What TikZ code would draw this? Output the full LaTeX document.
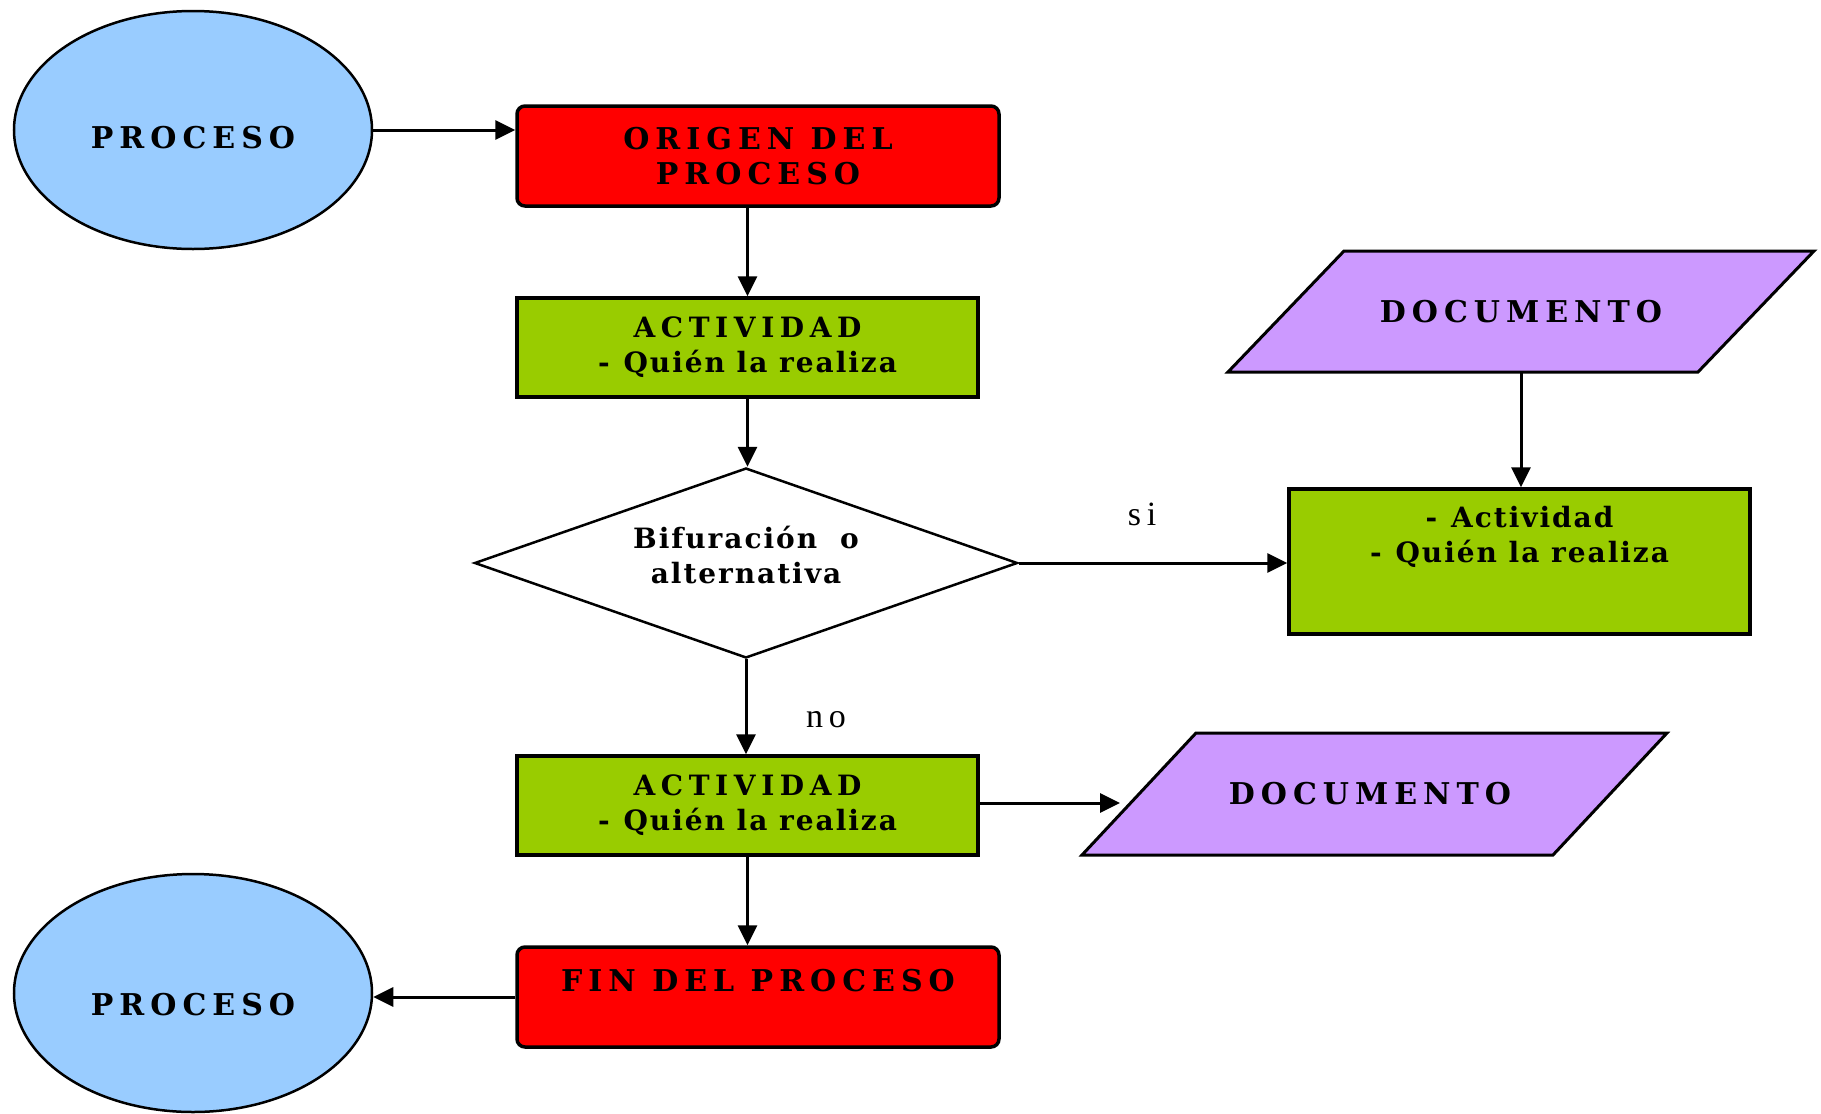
\documentclass[tikz,border=0pt]{standalone}
\usepackage{fontspec}
\setmainfont{Liberation Serif}
\newfontfamily\capsfont{DejaVu Serif}[LetterSpace=20]
\newfontfamily\lowfont{DejaVu Serif}[LetterSpace=7]
\newfontfamily\lblfont{Liberation Serif}[LetterSpace=17]
\usetikzlibrary{shapes.geometric,arrows.meta,calc}
\definecolor{procblue}{HTML}{99CCFF}
\definecolor{actgreen}{HTML}{99CC00}
\definecolor{docpurple}{HTML}{CC99FF}
\definecolor{boxred}{HTML}{FF0000}
\begin{document}
\begin{tikzpicture}[x=1pt,y=-1pt,
  proc/.style={ellipse, draw, line width=2.5pt, fill=procblue, minimum width=358pt, minimum height=238pt, inner sep=0pt},
  redbox/.style={draw, line width=3.5pt, fill=boxred, rounded corners=8pt, minimum width=482pt, minimum height=100pt, inner sep=0pt},
  greenbox/.style={draw, line width=3.5pt, fill=actgreen, minimum width=461pt, minimum height=99pt, inner sep=0pt},
  decision/.style={diamond, draw, line width=2.5pt, fill=white, aspect=2.86, minimum width=543pt, minimum height=190pt, inner sep=0pt},
  docshape/.style={draw, line width=3pt, fill=docpurple},
  arr/.style={line width=3pt, -{Triangle[length=20pt,width=19pt]}},
  capst/.style={font=\capsfont\bfseries\fontsize{30}{35}\selectfont, align=center},
  lowt/.style={font=\lowfont\bfseries\fontsize{28}{35}\selectfont, align=center},
  lbl/.style={font=\lblfont\fontsize{34}{40}\selectfont, inner sep=0pt}
]
\useasboundingbox (0,0) rectangle (1821,1114);

% documents (parallelograms)
\coordinate (d1a) at (1344,251);
\coordinate (d1b) at (1814,251);
\coordinate (d1c) at (1698,372);
\coordinate (d1d) at (1228,372);
\draw[docshape] (d1a) -- (d1b) -- (d1c) -- (d1d) -- cycle;
\node[capst] (doc1) at (1521,312) {DOCUMENTO};
\coordinate (doc1out) at (1521,372);

\coordinate (d2a) at (1196,733);
\coordinate (d2b) at (1667,733);
\coordinate (d2c) at (1553,855);
\coordinate (d2d) at (1082,855);
\draw[docshape] (d2a) -- (d2b) -- (d2c) -- (d2d) -- cycle;
\node[capst] (doc2) at (1370,794) {DOCUMENTO};
\coordinate (doc2in) at (1120,803);

% process ellipses
\node[proc, label={[capst, yshift=-8pt]center:PROCESO}] (p1) at (193,130) {};
\node[proc, label={[capst, yshift=-12pt]center:PROCESO}] (p2) at (193,993) {};

% boxes
\node[redbox, capst] (orig) at (758,156) {ORIGEN DEL\\PROCESO};
\node[greenbox, lowt] (act1) at (747.5,347.5) {{\capsfont\fontsize{28}{35}\selectfont ACTIVIDAD}\\-\hspace{0.5em}Quién la realiza};
\node[decision, label={[lowt, yshift=8pt]center:Bifuración\hspace{0.4em} o\\alternativa}] (dia) at (746,563) {};
\node[greenbox, minimum height=145pt, label={[lowt, yshift=25pt]center:-\hspace{0.5em}Actividad\\-\hspace{0.5em}Quién la realiza}] (actR) at (1519.5,561.5) {};
\node[greenbox, lowt] (act2) at (747.5,805.5) {{\capsfont\fontsize{28}{35}\selectfont ACTIVIDAD}\\-\hspace{0.5em}Quién la realiza};
\node[redbox, label={[capst, yshift=16pt]center:FIN DEL PROCESO}] (fin) at (758,997) {};

% labels
\node[lbl] (si) at (1142,514) {si};
\node[lbl] (no) at (826,720) {no};

% connectors
\draw[arr] (p1.east) -- (p1.east -| orig.west);
\draw[arr] (act1.north |- orig.south) -- (act1.north);
\draw[arr] (act1.south) -- (act1.south |- dia.north);
\draw[arr] (dia.east) -- (dia.east -| actR.west);
\draw[arr] (doc1out) -- (doc1out |- actR.north);
\draw[arr] (dia.south) -- (dia.south |- act2.north);
\draw[arr] (act2.east |- doc2in) -- (doc2in);
\draw[arr] (act2.south) -- (act2.south |- fin.north);
\draw[arr] (fin.west) -- (fin.west -| p2.east);
\end{tikzpicture}
\end{document}
